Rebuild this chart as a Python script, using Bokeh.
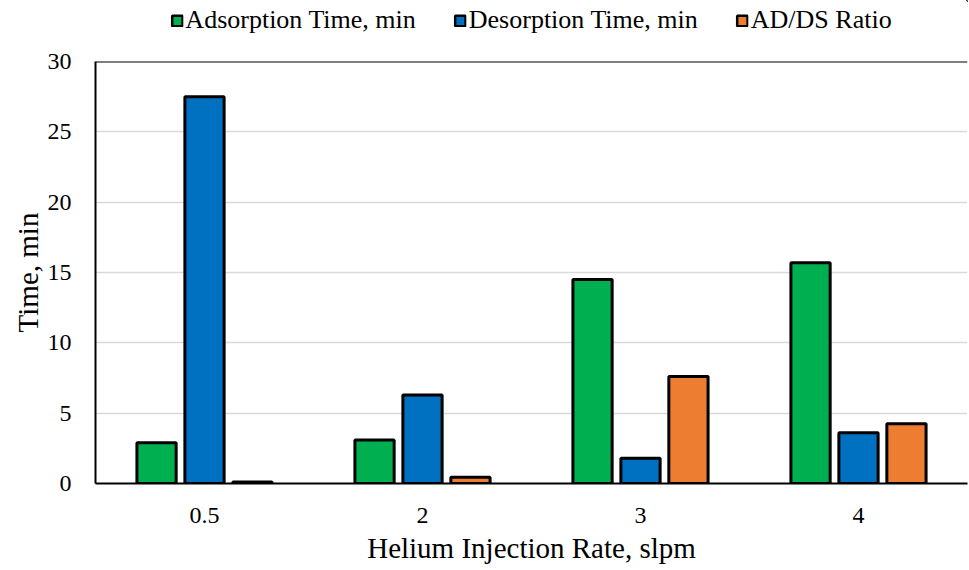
from bokeh.plotting import figure
from bokeh.layouts import column
from bokeh.models import ColumnDataSource, FactorRange, Legend, LegendItem, Span, FixedTicker
from bokeh.transform import dodge
from bokeh.embed import file_html
from bokeh.resources import INLINE

rates = ["0.5", "2", "3", "4"]
adsorption = [2.9, 3.1, 14.5, 15.7]
desorption = [27.5, 6.3, 1.8, 3.6]
ratio = [0.1, 0.45, 7.6, 4.25]
y_ticks = [0, 5, 10, 15, 20, 25, 30]

series_names = ["Adsorption Time, min", "Desorption Time, min", "AD/DS Ratio"]
series_colors = ["#00B050", "#0070C0", "#ED7D31"]

FONT = "Liberation Serif"

src = ColumnDataSource(dict(rate=rates, ads=adsorption, des=desorption, ratio=ratio))

p = figure(
    width=969, height=521,
    x_range=FactorRange(*rates, range_padding=0),
    y_range=(0, 30),
    output_backend="svg", toolbar_location=None,
    min_border_left=95, min_border_right=2, min_border_top=12, min_border_bottom=87,
)
p.outline_line_color = None

bw = 0.18
common = dict(width=bw, bottom=0, source=src, line_color="black", line_width=3)
p.vbar(x=dodge("rate", -0.22, range=p.x_range), top="ads", fill_color=series_colors[0], **common)
p.vbar(x=dodge("rate", 0.0, range=p.x_range), top="des", fill_color=series_colors[1], **common)
p.vbar(x=dodge("rate", 0.22, range=p.x_range), top="ratio", fill_color=series_colors[2], **common)

# top border of the frame
p.add_layout(Span(location=30, dimension="width", line_color="black", line_width=2))

p.xgrid.grid_line_color = None
p.ygrid.grid_line_color = "#d9d9d9"
p.ygrid.grid_line_width = 1.5

p.yaxis.ticker = FixedTicker(ticks=y_ticks)
for ax in (p.xaxis[0], p.yaxis[0]):
    ax.axis_line_color = "black"
    ax.axis_line_width = 2
    ax.major_tick_line_color = None
    ax.minor_tick_line_color = None
    ax.major_label_text_font = FONT
    ax.major_label_text_font_size = "24px"
    ax.major_label_text_color = "black"
    ax.axis_label_text_font = FONT
    ax.axis_label_text_font_size = "29px"
    ax.axis_label_text_font_style = "normal"
    ax.axis_label_text_color = "black"

p.xaxis.axis_label = "Helium Injection Rate, slpm"
p.yaxis.axis_label = "Time, min"
p.xaxis.major_label_standoff = 18
p.xaxis.axis_label_standoff = 6
p.yaxis.major_label_standoff = 18
p.yaxis.axis_label_standoff = 1

# legend strip across the top
lg = figure(
    width=969, height=49, x_range=(0, 1), y_range=(0, 1),
    output_backend="svg", toolbar_location=None,
    min_border_left=35, min_border_right=0, min_border_top=0, min_border_bottom=9,
)
lg.axis.visible = False
lg.grid.visible = False
lg.outline_line_color = None
items = []
for name, color in zip(series_names, series_colors):
    # placeholder bar kept outside the visible range; it only feeds the legend swatch
    r = lg.vbar(x=[5], top=[5], bottom=[4], width=0.1, fill_color=color,
                line_color="black", line_width=2.5)
    items.append(LegendItem(label=name, renderers=[r]))

legend = Legend(
    items=items,
    orientation="horizontal",
    location="center",
    label_text_font=FONT,
    label_text_font_size="26px",
    label_text_color="black",
    glyph_width=13, glyph_height=13,
    label_standoff=2,
    spacing=38,
    border_line_color=None,
    background_fill_alpha=0,
    padding=0, margin=0,
)
lg.add_layout(legend, "center")

layout = column(lg, p, spacing=0)
open("out.html", "w").write(file_html(layout, INLINE))
